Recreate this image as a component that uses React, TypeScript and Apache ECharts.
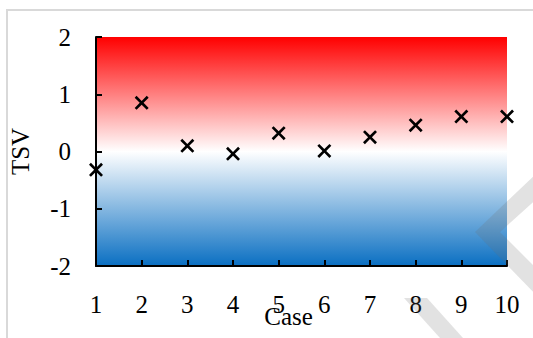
import React, { useEffect, useRef } from "react";
import * as echarts from "echarts";

const cases = [1, 2, 3, 4, 5, 6, 7, 8, 9, 10];
const tsv = [-0.32, 0.85, 0.1, -0.04, 0.32, 0.01, 0.25, 0.46, 0.61, 0.61];
const yTicks = [-2, -1, 0, 1, 2];
const xTitle = "Case";
const yTitle = "TSV";

const FONT = "'Liberation Serif', 'Times New Roman', serif";

// filled X marker (14x14 box, arm offset t)
const t = 1.9;
const X_PATH =
  "path://M0," + t + "L" + t + ",0L7," + (7 - t) + "L" + (14 - t) + ",0L14," + t +
  "L" + (7 + t) + ",7L14," + (14 - t) + "L" + (14 - t) + ",14L7," + (7 + t) +
  "L" + t + ",14L0," + (14 - t) + "L" + (7 - t) + ",7Z";

export default function App() {
  const ref = useRef<HTMLDivElement>(null);
  useEffect(() => {
    if (!ref.current) return;
    const chart = echarts.init(ref.current, null, { renderer: "svg" });
    chart.setOption({
      animation: false,
      backgroundColor: "#ffffff",
      grid: {
        left: 96,
        right: 26,
        top: 37,
        bottom: 72,
        outerBoundsMode: "none",
        containLabel: false,
        show: true,
        borderWidth: 0,
        backgroundColor: {
          type: "linear",
          x: 0,
          y: 0,
          x2: 0,
          y2: 1,
          colorStops: [
            { offset: 0, color: "#ff0000" },
            { offset: 0.5, color: "#ffffff" },
            { offset: 1, color: "#0a6fc2" },
          ],
        },
      },
      xAxis: {
        type: "value",
        min: 1,
        max: 10,
        interval: 1,
        splitLine: { show: false },
        axisLine: { show: true, onZero: false, lineStyle: { color: "#000", width: 2 } },
        axisTick: { show: true, inside: true, length: 6, lineStyle: { color: "#000", width: 2 } },
        axisLabel: { color: "#000", fontFamily: FONT, fontSize: 25, margin: 26 },
        name: xTitle,
        nameLocation: "middle",
        nameGap: 38,
        nameMoveOverlap: false,
        nameTextStyle: { color: "#000", fontFamily: FONT, fontSize: 25, padding: [0, 26, 0, 0] },
      },
      yAxis: {
        type: "value",
        min: yTicks[0],
        max: yTicks[yTicks.length - 1],
        interval: 1,
        splitLine: { show: false },
        axisLine: { show: true, onZero: false, lineStyle: { color: "#000", width: 2 } },
        axisTick: { show: true, inside: true, length: 6, lineStyle: { color: "#000", width: 2 } },
        axisLabel: { color: "#000", fontFamily: FONT, fontSize: 25, margin: 25 },
        name: yTitle,
        nameLocation: "middle",
        nameGap: 63,
        nameRotate: 90,
        nameMoveOverlap: false,
        nameTextStyle: { color: "#000", fontFamily: FONT, fontSize: 25 },
      },
      series: [
        {
          type: "scatter",
          data: cases.map((c, i) => [c, tsv[i]]),
          symbol: X_PATH,
          symbolSize: 14,
          itemStyle: { color: "#000", opacity: 1 },
          clip: false,
          z: 5,
        },
      ],
      graphic: [
        {
          type: "rect",
          shape: { x: 7, y: 10, width: 540, height: 340 },
          style: { fill: "none", stroke: "#d9d9d9", lineWidth: 2 },
          z: 100,
          silent: true,
        },
        {
          type: "polygon",
          shape: {
            points: [
              [540, 170],
              [475, 232],
              [540, 299],
              [540, 272],
              [500, 232],
              [540, 196],
            ],
          },
          style: { fill: "rgba(110,110,110,0.2)" },
          z: 100,
          silent: true,
        },
        {
          type: "polygon",
          shape: {
            points: [
              [404, 298],
              [427, 298],
              [472, 348],
              [449, 348],
            ],
          },
          style: { fill: "rgba(110,110,110,0.2)" },
          z: 100,
          silent: true,
        },
      ],
    });
    return () => chart.dispose();
  }, []);
  return (
    <div
      ref={ref}
      style={{ position: "fixed", left: 0, top: 0, width: 533, height: 338 }}
    />
  );
}
